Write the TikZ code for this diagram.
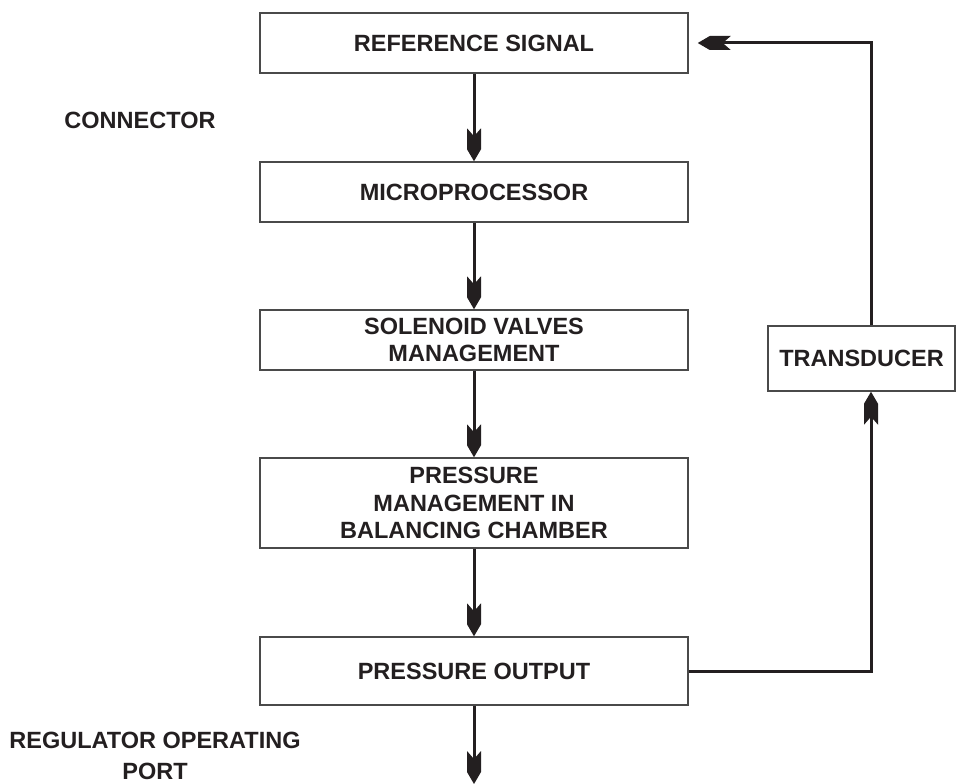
\documentclass[tikz,border=0pt]{standalone}
\usepackage{fontspec}
\setmainfont{Liberation Sans}
\usepackage{tikz}
\usetikzlibrary{positioning,arrows.meta,calc}
\definecolor{ink}{HTML}{231F20}
\definecolor{rim}{HTML}{4A4A4A}

% barbed head: pointed nose, straight flanks, notched back
\pgfdeclarearrow{
  name=Barb,
  setup code={
    \pgfarrowssettipend{0pt}
    \pgfarrowssetbackend{-33pt}
    \pgfarrowssetlineend{-20pt}
    \pgfarrowshullpoint{0pt}{0pt}
    \pgfarrowshullpoint{-33pt}{7pt}
    \pgfarrowshullpoint{-33pt}{-7pt}
  },
  drawing code={
    \pgfpathmoveto{\pgfqpoint{0pt}{0pt}}
    \pgfpathlineto{\pgfqpoint{-12pt}{7pt}}
    \pgfpathlineto{\pgfqpoint{-33pt}{7pt}}
    \pgfpathlineto{\pgfqpoint{-25pt}{0pt}}
    \pgfpathlineto{\pgfqpoint{-33pt}{-7pt}}
    \pgfpathlineto{\pgfqpoint{-12pt}{-7pt}}
    \pgfpathclose
    \pgfusepathqfill
  },
}

\begin{document}
\begin{tikzpicture}[
  x=1pt, y=-1pt,
  font=\fontsize{23.5}{27.5}\selectfont\bfseries,
  box/.style={draw=rim, line width=1.5pt, align=center, text=ink,
              minimum width=428pt, inner sep=0pt},
  lbl/.style={align=center, text=ink},
  flow/.style={-Barb, ink, line width=3pt},
]
\useasboundingbox (0,0) rectangle (956,784);

\node[box, minimum height=60pt] (refsig) at (474,43) {REFERENCE SIGNAL};
\node[box, minimum height=60pt] (micro) at (474,192) {MICROPROCESSOR};
\node[box, minimum height=60pt] (valves) at (474,340) {SOLENOID VALVES\\MANAGEMENT};
\node[box, minimum height=90pt] (chamber) at (474,503)
  {PRESSURE\\MANAGEMENT IN\\BALANCING CHAMBER};
\node[box, minimum height=68pt] (output) at (474,671) {PRESSURE OUTPUT};
\node[box, minimum width=187pt, minimum height=65pt] (transd) at (861.5,358.5) {TRANSDUCER};

\node[lbl] (conn) at (140,120) {CONNECTOR};
\node[lbl] (port) at (155,756) {REGULATOR OPERATING\\[4pt]PORT};

\coordinate (fbx) at (871,0);
\coordinate (portend) at (474,784);

\draw[flow] (refsig) -- (micro);
\draw[flow] (micro) -- (valves);
\draw[flow] (valves) -- (chamber);
\draw[flow] (chamber) -- (output);
\draw[flow] (output) -- (portend);
\draw[flow] (output.east) -| (transd.south -| fbx);
\draw[flow, shorten >=9pt] (transd.north -| fbx) |- (refsig.east);
\end{tikzpicture}
\end{document}
